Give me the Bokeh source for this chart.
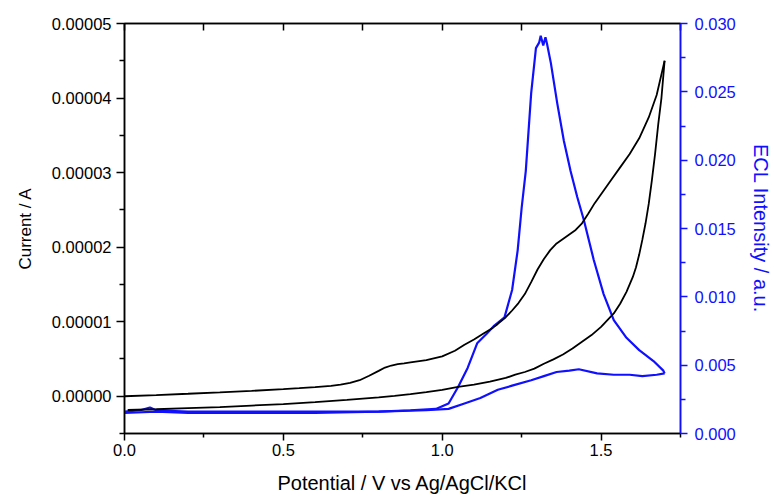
from bokeh.plotting import figure
from bokeh.models import Range1d, LinearAxis, FixedTicker, PrintfTickFormatter, Label
from bokeh.embed import file_html
from bokeh.resources import INLINE

# ---- data ----
# Current (µA, scaled to A below) vs potential (V): upper branch and lower (return) branch
cv_upper_v = [0.00, 0.10, 0.20, 0.30, 0.40, 0.50, 0.55, 0.60, 0.65, 0.68, 0.71, 0.74, 0.77, 0.80,
              0.82, 0.84, 0.86, 0.88, 0.90, 0.95, 1.00, 1.04, 1.07, 1.10, 1.13, 1.16, 1.175, 1.20,
              1.22, 1.24, 1.26, 1.28, 1.30, 1.32, 1.34, 1.36, 1.38, 1.40, 1.42, 1.44, 1.46, 1.48,
              1.50, 1.53, 1.56, 1.59, 1.62, 1.65, 1.675, 1.70]
cv_upper_ua = [0.00, 0.15, 0.33, 0.52, 0.72, 0.95, 1.08, 1.22, 1.40, 1.55, 1.78, 2.15, 2.75, 3.40,
               3.85, 4.12, 4.30, 4.42, 4.55, 4.85, 5.35, 6.10, 6.90, 7.60, 8.40, 9.20, 9.70, 10.6,
               11.5, 12.5, 13.7, 15.3, 17.0, 18.4, 19.6, 20.5, 21.1, 21.7, 22.3, 23.2, 24.5, 25.9,
               27.1, 28.9, 30.7, 32.5, 34.6, 37.4, 40.4, 45.0]

cv_lower_v = [1.70, 1.695, 1.69, 1.68, 1.67, 1.66, 1.65, 1.64, 1.63, 1.62, 1.61, 1.60, 1.58, 1.56,
              1.54, 1.52, 1.50, 1.47, 1.44, 1.41, 1.38, 1.35, 1.32, 1.29, 1.26, 1.23, 1.20, 1.15,
              1.10, 1.05, 1.00, 0.95, 0.90, 0.85, 0.80, 0.70, 0.60, 0.50, 0.40, 0.30, 0.20, 0.10,
              0.01]
cv_lower_ua = [45.0, 42.5, 40.0, 36.5, 32.5, 29.0, 25.8, 23.2, 21.0, 19.0, 17.3, 16.0, 14.0, 12.4,
               11.1, 10.2, 9.3, 8.2, 7.3, 6.4, 5.6, 4.95, 4.35, 3.7, 3.25, 2.9, 2.45, 1.95,
               1.55, 1.25, 0.85, 0.55, 0.28, 0.05, -0.15, -0.5, -0.8, -1.05, -1.25, -1.45, -1.6,
               -1.75, -1.85]

# ECL intensity (a.u.) vs potential (V): forward and return scan
ecl_fwd_v = [0.00, 0.05, 0.08, 0.10, 0.20, 0.30, 0.40, 0.50, 0.60, 0.70, 0.80, 0.90, 0.98, 1.02,
             1.05, 1.08, 1.11, 1.14, 1.164, 1.196, 1.22, 1.2375, 1.25, 1.263, 1.28, 1.295, 1.305,
             1.31, 1.318, 1.325, 1.33, 1.342, 1.3625, 1.383, 1.404, 1.425, 1.446, 1.477, 1.508,
             1.54, 1.58, 1.62, 1.665, 1.696, 1.70]
ecl_fwd_y = [0.0016, 0.0017, 0.0019, 0.0017, 0.0016, 0.0016, 0.0016, 0.0016, 0.0016, 0.0016,
             0.0016, 0.0017, 0.0018, 0.0022, 0.0034, 0.0048, 0.0066, 0.0073, 0.0079, 0.0085,
             0.0105, 0.0134, 0.0165, 0.0192, 0.0249, 0.0282, 0.0286, 0.0291, 0.0284, 0.0290,
             0.0285, 0.0271, 0.0241, 0.0214, 0.0192, 0.0173, 0.0156, 0.0127, 0.0102, 0.0083,
             0.0070, 0.0061, 0.0053, 0.0046, 0.0044]
ecl_ret_v = [1.70, 1.675, 1.63, 1.59, 1.54, 1.4875, 1.43, 1.40, 1.36, 1.32, 1.28, 1.22, 1.175,
             1.12, 1.07, 1.02, 0.95, 0.80, 0.60, 0.40, 0.20, 0.10, 0.00]
ecl_ret_y = [0.0044, 0.0043, 0.0042, 0.0043, 0.0043, 0.0044, 0.0047, 0.0046, 0.0045, 0.0042,
             0.0039, 0.0035, 0.0032, 0.0026, 0.0022, 0.0018, 0.0017, 0.0016, 0.0015, 0.0015,
             0.0015, 0.0016, 0.0015]

# ticks
x_major = [0.0, 0.5, 1.0, 1.5]
x_minor = [0.25, 0.75, 1.25, 1.75]
cur_major = [0.0, 1e-5, 2e-5, 3e-5, 4e-5, 5e-5]
cur_minor = [-5e-6, 5e-6, 1.5e-5, 2.5e-5, 3.5e-5, 4.5e-5]
ecl_major = [0.000, 0.005, 0.010, 0.015, 0.020, 0.025, 0.030]
ecl_minor = [0.0025, 0.0075, 0.0125, 0.0175, 0.0225, 0.0275]

cv_upper_i = [v * 1e-6 for v in cv_upper_ua]
cv_lower_i = [v * 1e-6 for v in cv_lower_ua]

FONT = "Liberation Sans"
BLUE = "#1010ff"

p = figure(width=774, height=500, output_backend="svg", toolbar_location=None,
           x_range=Range1d(0, 1.75), y_range=Range1d(-5e-6, 5e-5),
           min_border_left=124, min_border_right=91, min_border_top=23, min_border_bottom=67)
p.extra_y_ranges = {"ecl": Range1d(0, 0.030)}
p.grid.visible = False
p.outline_line_color = "black"
p.outline_line_width = 1.5
p.background_fill_color = "white"
p.border_fill_color = "white"

# bottom axis
xa = p.xaxis[0]
xa.ticker = FixedTicker(ticks=x_major, minor_ticks=x_minor)
xa.formatter = PrintfTickFormatter(format="%.1f")
xa.axis_label = "Potential / V vs Ag/AgCl/KCl"
# left axis
ya = p.yaxis[0]
ya.ticker = FixedTicker(ticks=cur_major, minor_ticks=cur_minor)
ya.formatter = PrintfTickFormatter(format="%.5f")
ya.axis_label = "Current / A"

for ax in (xa, ya):
    ax.axis_line_width = 1.5
    ax.major_tick_line_width = 1.5
    ax.minor_tick_line_width = 1.5
    ax.major_tick_in = 0
    ax.minor_tick_in = 0
    ax.major_label_text_font = FONT
    ax.major_label_text_font_size = "16.5px"
    ax.axis_label_text_font = FONT
    ax.axis_label_text_font_style = "normal"
    ax.major_label_text_color = "black"
    ax.axis_label_text_color = "black"
xa.major_tick_out = 7
xa.minor_tick_out = 4
xa.major_label_standoff = 3
xa.axis_label_text_font_size = "20px"
xa.axis_label_standoff = 13
ya.major_tick_out = 8
ya.minor_tick_out = 5
ya.major_label_standoff = 5
ya.axis_label_text_font_size = "17px"
ya.axis_label_standoff = 14

# top mirror axis: inward ticks only, no labels
top = LinearAxis(ticker=FixedTicker(ticks=[], minor_ticks=x_major + x_minor),
                 major_tick_in=0, major_tick_out=0, minor_tick_in=7, minor_tick_out=0,
                 axis_line_width=1.5, minor_tick_line_width=1.5)
p.add_layout(top, "above")

# right ECL axis
ra = LinearAxis(y_range_name="ecl", ticker=FixedTicker(ticks=ecl_major, minor_ticks=ecl_minor),
                formatter=PrintfTickFormatter(format="%.3f"),
                axis_label="ECL Intensity / a.u.",
                axis_line_color=BLUE, axis_line_width=1.5,
                major_tick_line_color=BLUE, minor_tick_line_color=BLUE,
                major_tick_line_width=1.5, minor_tick_line_width=1.5,
                major_tick_in=0, major_tick_out=7, minor_tick_in=0, minor_tick_out=5,
                major_label_text_color=BLUE, major_label_text_font=FONT,
                major_label_text_font_size="16.5px", major_label_standoff=7,
                axis_label_text_color=BLUE, axis_label_text_font=FONT,
                axis_label_text_font_style="normal", axis_label_text_font_size="20px",
                axis_label_standoff=11)
p.add_layout(ra, "right")

# data lines
p.line(ecl_fwd_v, ecl_fwd_y, y_range_name="ecl", line_color=BLUE, line_width=2.2)
p.line(ecl_ret_v, ecl_ret_y, y_range_name="ecl", line_color=BLUE, line_width=2.2)
p.line(cv_upper_v, cv_upper_i, line_color="black", line_width=1.8)
p.line(cv_lower_v, cv_lower_i, line_color="black", line_width=1.8)

p.add_layout(Label(x=-0.334, y=4.62e-5, text="a)", text_font=FONT, text_font_style="bold",
                   text_font_size="24px", text_color="black"))

open("out.html", "w").write(file_html(p, INLINE))
